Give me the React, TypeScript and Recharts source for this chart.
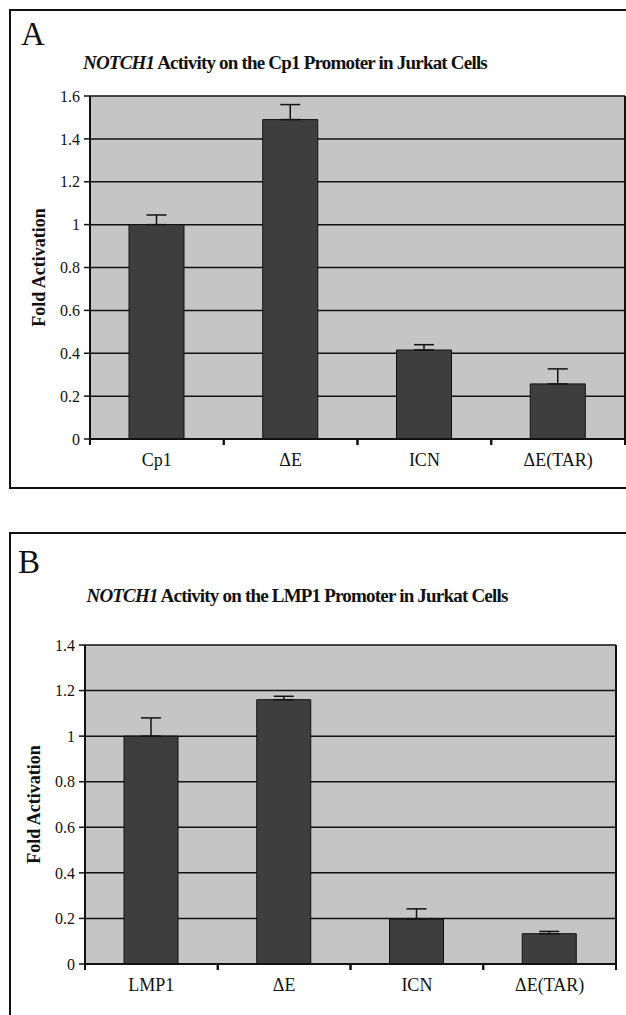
import React from 'react';
import { BarChart, Bar, XAxis, YAxis, CartesianGrid, ErrorBar, Label } from 'recharts';

const SERIF = '"Liberation Serif", "Times New Roman", serif';

// panel A: Cp1 promoter
const categoriesA = ['Cp1', 'ΔE', 'ICN', 'ΔE(TAR)'];
const foldA = [1.0, 1.49, 0.415, 0.257];
const errA = [0.045, 0.07, 0.025, 0.07];
const ticksA = [0, 0.2, 0.4, 0.6, 0.8, 1, 1.2, 1.4, 1.6];

// panel B: LMP1 promoter
const categoriesB = ['LMP1', 'ΔE', 'ICN', 'ΔE(TAR)'];
const foldB = [1.0, 1.16, 0.197, 0.133];
const errB = [0.08, 0.015, 0.045, 0.01];
const ticksB = [0, 0.2, 0.4, 0.6, 0.8, 1, 1.2, 1.4];

const makeRows = (cats: string[], vals: number[], errs: number[]) =>
  cats.map((name, i) => ({ name, fold: vals[i], err: [0, errs[i]] }));

const CategoryTick = (props: any) => {
  const { x, y, payload } = props;
  const half = payload.offset ?? props.width / (props.visibleTicksCount || 4) / 2;
  const axisY = y - 14;
  return (
    <g>
      <line x1={x - half} y1={axisY} x2={x - half} y2={axisY + 6} stroke="#111" strokeWidth={2} />
      <line x1={x + half} y1={axisY} x2={x + half} y2={axisY + 6} stroke="#111" strokeWidth={2} />
      <text x={x} y={y} dy="0.71em" textAnchor="middle" fontSize={18} fontFamily={SERIF} fill="#111">
        {payload.value}
      </text>
    </g>
  );
};

const foldLabel = (props: any) => {
  const vb = props.viewBox;
  const cx = vb.x - 1;
  const cy = vb.y + vb.height / 2;
  return (
    <text
      x={cx}
      y={cy}
      transform={`rotate(-90 ${cx} ${cy})`}
      textAnchor="middle"
      dominantBaseline="central"
      fontSize={18}
      fontWeight="bold"
      fontFamily={SERIF}
      fill="#111"
    >
      Fold Activation
    </text>
  );
};

type PanelProps = {
  rows: any[];
  ticks: number[];
  top: number;
  height: number;
  margin: { top: number; right: number; bottom: number; left: number };
  barSize: number;
};

const Panel = ({ rows, ticks, top, height, margin, barSize }: PanelProps) => {
  const max = ticks[ticks.length - 1];
  return (
    <div style={{ position: 'absolute', left: 0, top, width: 626, height }}>
      <BarChart width={626} height={height} data={rows} margin={margin}>
        <CartesianGrid vertical={false} stroke="#111" strokeWidth={1.5} fill="#c5c5c5" fillOpacity={1} />
        <XAxis
          dataKey="name"
          height={40}
          tickLine={false}
          tickSize={6}
          tickMargin={8}
          axisLine={{ stroke: '#111', strokeWidth: 2 }}
          tick={<CategoryTick />}
          interval={0}
        />
        <YAxis
          width={50}
          domain={[0, max]}
          ticks={ticks}
          interval={0}
          tickSize={6}
          tickMargin={4}
          tickLine={{ stroke: '#111', strokeWidth: 1.5 }}
          axisLine={{ stroke: '#111', strokeWidth: 2 }}
          tick={{ fill: '#111', fontSize: 16, fontFamily: SERIF }}
          tickFormatter={(v: number) => String(v)}
        >
          <Label content={foldLabel} />
        </YAxis>
        <YAxis
          yAxisId="edge"
          orientation="right"
          width={1}
          domain={[0, max]}
          tick={false}
          tickLine={false}
          axisLine={{ stroke: '#111', strokeWidth: 2 }}
        />
        <Bar dataKey="fold" fill="#3e3e3e" stroke="#111" strokeWidth={1} barSize={barSize} isAnimationActive={false}>
          <ErrorBar dataKey="err" width={10} stroke="#111" strokeWidth={1.5} direction="y" />
        </Bar>
      </BarChart>
    </div>
  );
};

export default function App() {
  return (
    <div
      style={{
        position: 'absolute',
        left: 0,
        top: 0,
        width: 626,
        height: 1015,
        overflow: 'hidden',
        background: '#fff',
        fontFamily: SERIF,
      }}
    >
      <svg width={626} height={1015} style={{ position: 'absolute', left: 0, top: 0 }}>
        <rect x={10} y={10} width={640} height={478} fill="none" stroke="#111" strokeWidth={2} />
        <rect x={10} y={533} width={640} height={600} fill="none" stroke="#111" strokeWidth={2} />
        <text x={21} y={45} fontSize={33} fontFamily={SERIF} fill="#111">A</text>
        <text x={285} y={69} textAnchor="middle" fontSize={19} fontWeight="bold" fontFamily={SERIF} fill="#111" letterSpacing={-0.8}>
          <tspan fontStyle="italic">NOTCH1</tspan> Activity on the Cp1 Promoter in Jurkat Cells
        </text>
        <text x={18} y={573} fontSize={33} fontFamily={SERIF} fill="#111">B</text>
        <text x={297} y={602} textAnchor="middle" fontSize={19} fontWeight="bold" fontFamily={SERIF} fill="#111" letterSpacing={-0.8}>
          <tspan fontStyle="italic">NOTCH1</tspan> Activity on the LMP1 Promoter in Jurkat Cells
        </text>
      </svg>
      <Panel
        rows={makeRows(categoriesA, foldA, errA)}
        ticks={ticksA}
        top={0}
        height={490}
        margin={{ top: 96, right: 0, bottom: 11, left: 40 }}
        barSize={55}
      />
      <Panel
        rows={makeRows(categoriesB, foldB, errB)}
        ticks={ticksB}
        top={500}
        height={515}
        margin={{ top: 145, right: 9, bottom: 11, left: 35 }}
        barSize={54}
      />
    </div>
  );
}
